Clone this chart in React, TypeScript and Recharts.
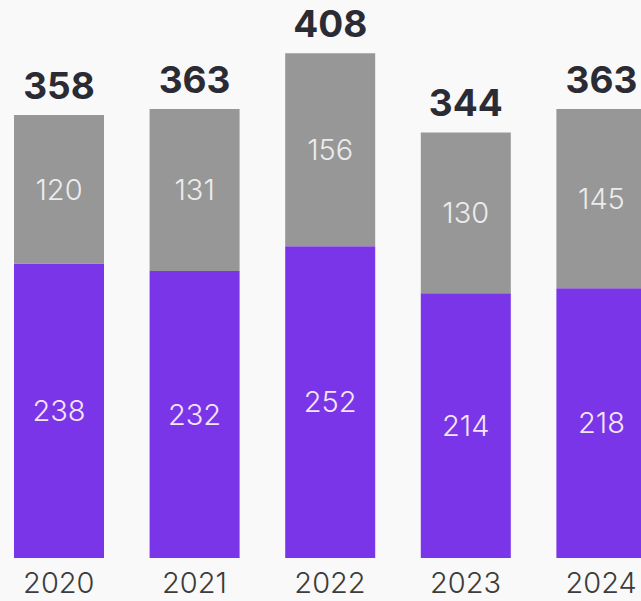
import React from 'react';
import { BarChart, Bar, XAxis, YAxis, LabelList } from 'recharts';

const years = ['2020', '2021', '2022', '2023', '2024'];
const purpleValues = [238, 232, 252, 214, 218];
const grayValues = [120, 131, 156, 130, 145];

const data = years.map((year, i) => ({
  year,
  purple: purpleValues[i],
  gray: grayValues[i],
  total: purpleValues[i] + grayValues[i],
}));

const FONT = 'Inter, Lato, "Open Sans", sans-serif';

const App: React.FC = () => {
  return (
    <div
      style={{
        position: 'absolute',
        left: 0,
        top: 0,
        width: 641,
        height: 601,
        overflow: 'hidden',
        background: '#f9f9f9',
      }}
    >
      <BarChart
        width={678}
        height={601}
        data={data}
        margin={{ top: 0, right: 0, bottom: 0, left: 0 }}
        barSize={90}
        style={{ position: 'absolute', left: -9, top: 0, fontFamily: FONT }}
      >
        <XAxis
          dataKey="year"
          axisLine={false}
          tickLine={false}
          tickSize={0}
          tickMargin={14}
          height={43}
          interval={0}
          tick={{ fill: '#3c3c3c', fontSize: 29, fontWeight: 300, fontFamily: FONT }}
        />
        <YAxis hide domain={[0, 451]} />
        <Bar dataKey="purple" stackId="a" fill="#7b35e9" isAnimationActive={false}>
          <LabelList
            dataKey="purple"
            position="center"
            fill="#f3e6f3"
            fontSize={29}
            fontWeight={300}
            fontFamily={FONT}
          />
        </Bar>
        <Bar dataKey="gray" stackId="a" fill="#979797" isAnimationActive={false}>
          <LabelList
            dataKey="gray"
            position="center"
            fill="#ececec"
            fontSize={29}
            fontWeight={300}
            fontFamily={FONT}
          />
          <LabelList
            dataKey="total"
            position="top"
            offset={16}
            fill="#2b2b33"
            fontSize={37}
            fontWeight={700}
            fontFamily={FONT}
          />
        </Bar>
      </BarChart>
    </div>
  );
};

export default App;
